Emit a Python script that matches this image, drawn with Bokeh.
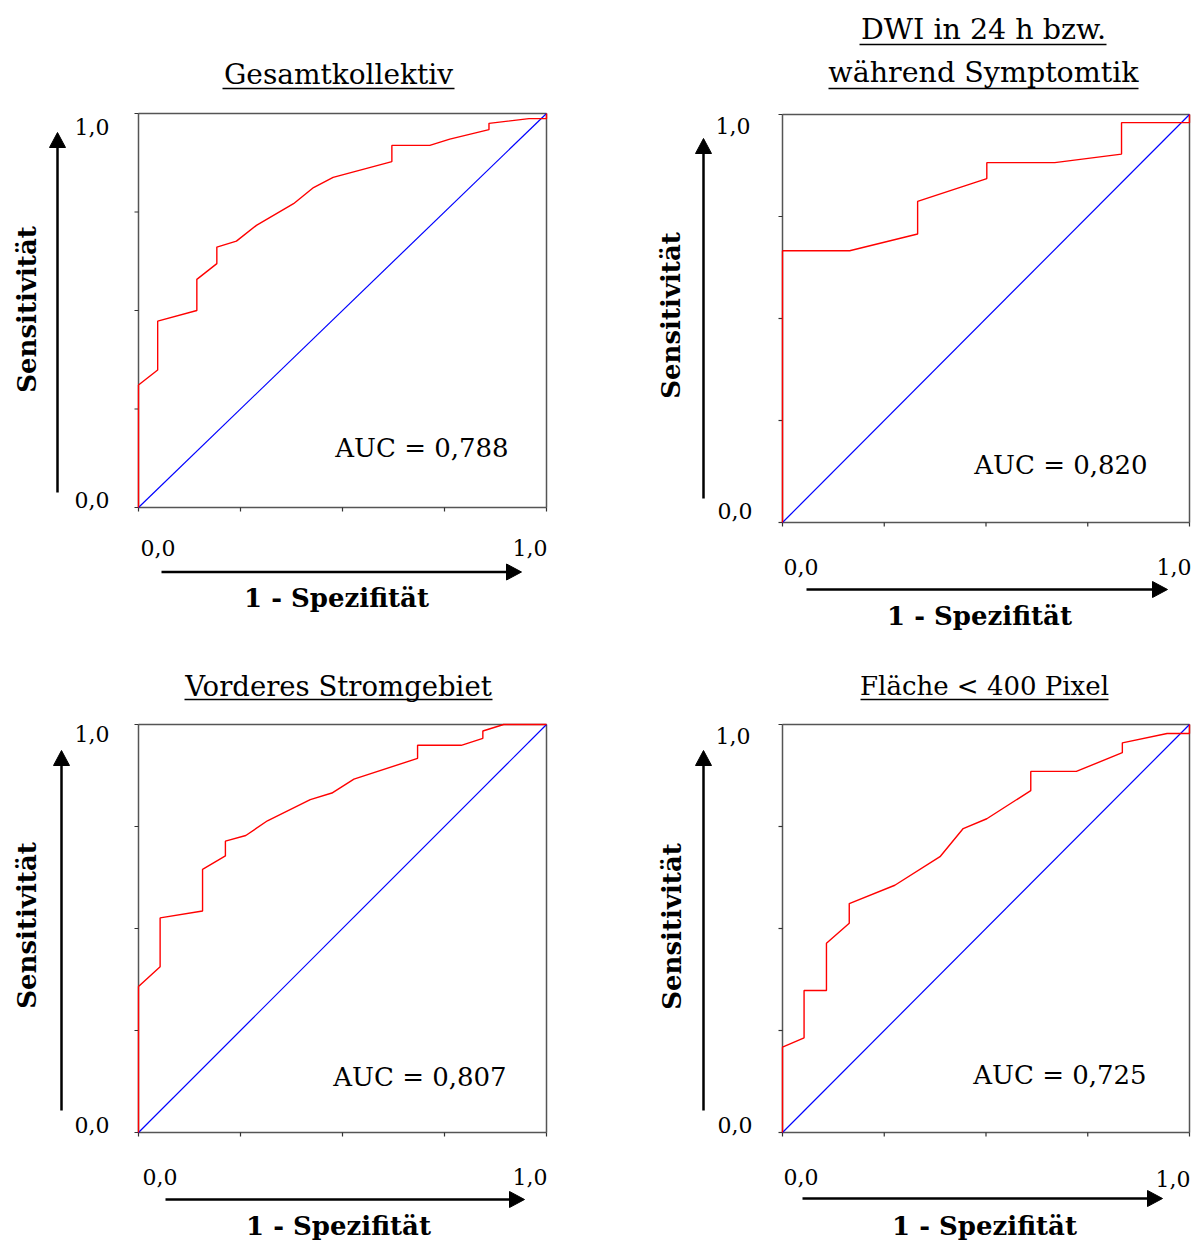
from bokeh.plotting import figure
from bokeh.layouts import column, row
from bokeh.models import Range1d, Label
from bokeh.embed import file_html
from bokeh.resources import INLINE

# ---------------- data ----------------
titles = [["Gesamtkollektiv"], ["DWI in 24 h bzw.", "während Symptomtik"],
          ["Vorderes Stromgebiet"], ["Fläche < 400 Pixel"]]
auc_labels = ["AUC = 0,788", "AUC = 0,820", "AUC = 0,807", "AUC = 0,725"]
tick_lo = "0,0"
tick_hi = "1,0"
x_title = "1 - Spezifität"
y_title = "Sensitivität"
tick_values = [0.0, 0.25, 0.5, 0.75, 1.0]
diag = [0.0, 1.0]

fpr_gesamt = [0, 0, 0.047, 0.047, 0.143, 0.143, 0.192, 0.192, 0.240, 0.289, 0.380,
              0.429, 0.477, 0.621, 0.621, 0.714, 0.763, 0.859, 0.859, 0.957, 1.0, 1.0]
tpr_gesamt = [0, 0.311, 0.349, 0.473, 0.500, 0.579, 0.619, 0.661, 0.676, 0.716, 0.771,
              0.812, 0.838, 0.878, 0.919, 0.919, 0.935, 0.959, 0.975, 0.987, 0.987, 1.0]

fpr_dwi = [0, 0, 0.165, 0.332, 0.332, 0.502, 0.502, 0.669, 0.833, 0.833, 1.0, 1.0]
tpr_dwi = [0, 0.666, 0.666, 0.707, 0.787, 0.843, 0.882, 0.882, 0.903, 0.980, 0.980, 1.0]

fpr_vorder = [0, 0, 0.053, 0.053, 0.157, 0.157, 0.213, 0.213, 0.263, 0.316, 0.421,
              0.474, 0.528, 0.684, 0.684, 0.791, 0.844, 0.844, 0.895, 1.0]
tpr_vorder = [0, 0.358, 0.406, 0.526, 0.543, 0.645, 0.678, 0.714, 0.728, 0.764, 0.816,
              0.832, 0.866, 0.917, 0.949, 0.949, 0.966, 0.984, 1.0, 1.0]

fpr_flaeche = [0, 0, 0.053, 0.053, 0.108, 0.108, 0.164, 0.164, 0.276, 0.387, 0.444,
               0.502, 0.610, 0.610, 0.722, 0.835, 0.835, 0.945, 1.0, 1.0]
tpr_flaeche = [0, 0.209, 0.232, 0.348, 0.348, 0.464, 0.513, 0.561, 0.606, 0.676, 0.745,
               0.769, 0.838, 0.885, 0.885, 0.931, 0.955, 0.978, 0.978, 1.0]

curves = [(fpr_gesamt, tpr_gesamt), (fpr_dwi, tpr_dwi),
          (fpr_vorder, tpr_vorder), (fpr_flaeche, tpr_flaeche)]

# ---------------- layout (page pixels; text positions are centres) ----------------
SERIF = "DejaVu Serif"
ROW1_H = 640
ROW2_H = 603
panels = [
    dict(ox=0, oy=0, w=600, h=ROW1_H, L=138, R=546, T=113, B=507,
         title_pos=[(338, 74, 222, 454, 88, "28px")],
         ytick=[(109, 126), (109, 499)], yarrow=(57, 492, 132), ylab=(26, 309),
         xtick=[(140, 547), (547, 547)], xarrow=(571.5, 161, 521), xlab=(336, 597),
         auc=(421.5, 447.5)),
    dict(ox=600, oy=0, w=600, h=ROW1_H, L=782, R=1189, T=114, B=522,
         title_pos=[(983, 29, 859, 1106, 44, "28.5px"), (983, 72, 828, 1138, 88, "28.5px")],
         ytick=[(750, 125), (752, 510)], yarrow=(703, 498, 138), ylab=(670, 315),
         xtick=[(783, 566), (1191, 566)], xarrow=(589, 806, 1167), xlab=(979, 615),
         auc=(1060.5, 464)),
    dict(ox=0, oy=ROW1_H, w=600, h=ROW2_H, L=138, R=546, T=724, B=1132,
         title_pos=[(338, 685, 184, 492, 699, "27.5px")],
         ytick=[(109, 733), (109, 1124)], yarrow=(61, 1110, 750), ylab=(26, 925),
         xtick=[(142, 1176), (547, 1176)], xarrow=(1199, 165, 524), xlab=(338, 1225),
         auc=(419.5, 1076)),
    dict(ox=600, oy=ROW1_H, w=600, h=ROW2_H, L=782, R=1189, T=724, B=1132,
         title_pos=[(984, 685, 860, 1108, 699, "26px")],
         ytick=[(750, 735), (752, 1124)], yarrow=(703, 1110, 750), ylab=(671, 926),
         xtick=[(783, 1176), (1190, 1178)], xarrow=(1198, 802, 1162), xlab=(984, 1225),
         auc=(1059.5, 1074)),
]


def make_panel(i):
    g = panels[i]
    sx = 1.0 / (g["R"] - g["L"])        # data units per pixel (x)
    sy = 1.0 / (g["B"] - g["T"])        # data units per pixel (y)
    fx = lambda px: (px - g["L"]) * sx
    fy = lambda py: (g["B"] - py) * sy

    x0 = fx(g["ox"]); x1 = fx(g["ox"] + g["w"])
    y0 = fy(g["oy"] + g["h"]); y1 = fy(g["oy"])
    p = figure(width=g["w"], height=g["h"], output_backend="svg", toolbar_location=None,
               x_range=Range1d(x0, x1), y_range=Range1d(y0, y1),
               x_axis_location=None, y_axis_location=None,
               min_border=0, min_border_left=0, min_border_right=0,
               min_border_top=0, min_border_bottom=0,
               background_fill_color="white", border_fill_color="white")
    p.grid.visible = False
    p.outline_line_color = None

    def label(x, y, text, size, align="center", bold=False, angle=0.0):
        p.add_layout(Label(x=fx(x), y=fy(y), text=text, text_font=SERIF,
                           text_font_size=size, text_align=align,
                           text_baseline="middle", angle=angle,
                           text_font_style="bold" if bold else "normal",
                           text_color="black"))

    # plot box
    p.segment(x0=[0, 0, 0, 1], y0=[0, 0, 1, 0], x1=[1, 0, 1, 1], y1=[0, 1, 1, 1],
              line_color="#555555", line_width=1.5)
    # ticks (outward)
    p.segment(x0=tick_values, y0=[0] * 5, x1=tick_values, y1=[-4 * sy] * 5,
              line_color="#333333", line_width=1.2)
    p.segment(x0=[0] * 5, y0=tick_values, x1=[-4 * sx] * 5, y1=tick_values,
              line_color="#333333", line_width=1.2)

    fpr, tpr = curves[i]
    p.line(diag, diag, line_color="#0000ff", line_width=1.2)
    p.line(fpr, tpr, line_color="#ff0000", line_width=1.4)

    # titles with underline
    for txt, (cx, cy, u0, u1, uy, fs) in zip(titles[i], g["title_pos"]):
        label(cx, cy, txt, fs)
        p.segment(x0=[fx(u0)], y0=[fy(uy)], x1=[fx(u1)], y1=[fy(uy)],
                  line_color="black", line_width=1.6)

    # tick labels
    for txt, (rx, cy) in zip([tick_hi, tick_lo], g["ytick"]):
        label(rx, cy, txt, "22px", align="right")
    (lx, ly), (rx, ry) = g["xtick"]
    label(lx, ly, tick_lo, "22px", align="left")
    label(rx, ry, tick_hi, "22px", align="right")

    # arrows: shaft + filled triangular head
    hl, hw = 15, 8   # head length / half width in px
    ax_x, ya, yb = g["yarrow"]
    p.segment(x0=[fx(ax_x)], y0=[fy(ya)], x1=[fx(ax_x)], y1=[fy(yb + hl - 1)],
              line_color="black", line_width=2.5)
    p.patch(x=[fx(ax_x - hw), fx(ax_x + hw), fx(ax_x)],
            y=[fy(yb + hl), fy(yb + hl), fy(yb)],
            fill_color="black", line_color="black", line_width=1)
    ay, xa, xb = g["xarrow"]
    p.segment(x0=[fx(xa)], y0=[fy(ay)], x1=[fx(xb - hl + 1)], y1=[fy(ay)],
              line_color="black", line_width=2.5)
    p.patch(x=[fx(xb - hl), fx(xb - hl), fx(xb)],
            y=[fy(ay - hw), fy(ay + hw), fy(ay)],
            fill_color="black", line_color="black", line_width=1)

    # axis titles
    bx, cy = g["ylab"]
    label(bx, cy, y_title, "26px", bold=True, angle=1.5707963)
    cx, cy = g["xlab"]
    label(cx, cy, x_title, "26px", bold=True)

    # AUC
    cx, cy = g["auc"]
    label(cx, cy, auc_labels[i], "26px")
    return p


figs = [make_panel(i) for i in range(4)]
layout = column(row(figs[0], figs[1], spacing=0), row(figs[2], figs[3], spacing=0),
                spacing=0)

open("out.html", "w").write(file_html(layout, INLINE))
